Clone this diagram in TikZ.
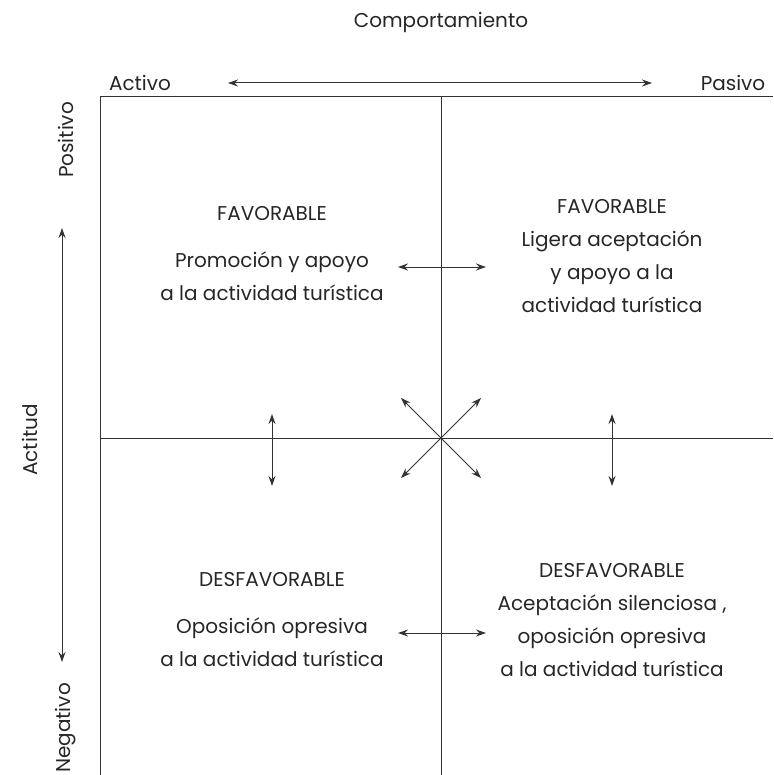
\documentclass[tikz,border=0pt]{standalone}
\usepackage{fontspec}
\setmainfont{Poppins}
\usetikzlibrary{arrows.meta}
\definecolor{ink}{HTML}{262626}
\definecolor{rule}{HTML}{333333}
\tikzset{
  lbl/.style={text=ink, font=\fontsize{20}{33}\selectfont, inner sep=0pt},
  quad/.style={lbl, align=center},
  axis/.style={rule, line width=1pt},
  dbl/.style={rule, line width=1pt, {Stealth[length=10pt,width=7pt]}-{Stealth[length=10pt,width=7pt]}},
}
\begin{document}
\begin{tikzpicture}[x=1pt,y=-1pt]
  \useasboundingbox (0,0) rectangle (773,775);
  \def\mx{441}
  \def\my{438}
  % frame and cross
  \draw[axis] (100,775) -- (100,97) -- (773,97);
  \draw[axis] (\mx,97) -- (\mx,775);
  \draw[axis] (100,\my) -- (773,\my);
  % axis titles
  \node[lbl] (comp) at (\mx,22) {Comportamiento};
  \node[lbl] (activo) at (140,83) {Activo};
  \node[lbl] (pasivo) at (733,83) {Pasivo};
  \coordinate (hl) at (228,83);
  \coordinate (hr) at (652,83);
  \draw[dbl] (hl) -- (hr);
  \node[lbl, rotate=90] (actitud) at (30,440) {Actitud};
  \node[lbl, rotate=90] (positivo) at (66,140) {Positivo};
  \node[lbl, rotate=90] (negativo) at (66,728) {Negativo};
  \coordinate (vt) at (62,228);
  \coordinate (vb) at (62,662);
  \draw[dbl] (vt) -- (vb);
  % quadrants
  \node[quad] (fav1) at (272,254) {FAVORABLE\\[14pt]Promoción y apoyo\\a la actividad turística};
  \node[quad] (fav2) at (612,256) {FAVORABLE\\Ligera aceptación\\y apoyo a la\\actividad turística};
  \node[quad] (des1) at (272,620) {DESFAVORABLE\\[14pt]Oposición opresiva\\a la actividad turística};
  \node[quad] (des2) at (612,620) {DESFAVORABLE\\Aceptación silenciosa ,\\oposición opresiva\\a la actividad turística};
  % arrows between quadrants
  \coordinate (t1) at (398,267); \coordinate (t2) at (486,267);
  \coordinate (b1) at (398,633); \coordinate (b2) at (486,633);
  \coordinate (l1) at (272,414); \coordinate (l2) at (272,486);
  \coordinate (r1) at (612,414); \coordinate (r2) at (612,486);
  \draw[dbl] (t1) -- (t2);
  \draw[dbl] (b1) -- (b2);
  \draw[dbl] (l1) -- (l2);
  \draw[dbl] (r1) -- (r2);
  \coordinate (c) at (\mx,\my);
  \draw[dbl] (\mx-40,\my-40) coordinate (d1) -- (\mx+40,\my+40) coordinate (d2);
  \draw[dbl] (\mx+40,\my-40) coordinate (d3) -- (\mx-40,\my+40) coordinate (d4);
\end{tikzpicture}
\end{document}
